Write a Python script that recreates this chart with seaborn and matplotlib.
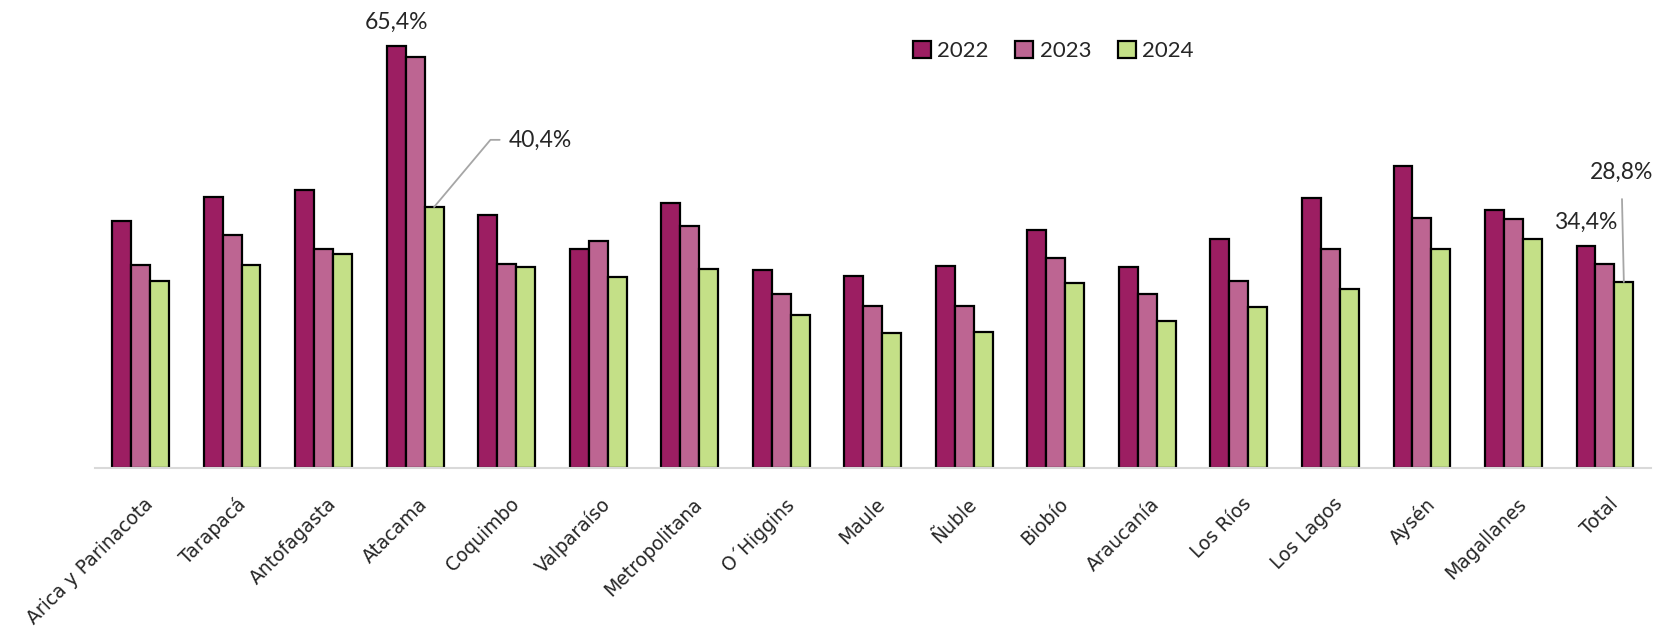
import seaborn as sns
import pandas as pd
import numpy as np
import matplotlib.pyplot as plt
from matplotlib.transforms import ScaledTranslation

sns.set_theme(style="white")
plt.rcParams['font.family'] = ['Lato', 'DejaVu Sans']

# regiones y valores (%)
regiones = ["Arica y Parinacota", "Tarapacá", "Antofagasta", "Atacama", "Coquimbo",
            "Valparaíso", "Metropolitana", "O´Higgins", "Maule", "Ñuble", "Biobío",
            "Araucanía", "Los Ríos", "Los Lagos", "Aysén", "Magallanes", "Total"]
v2022 = [38.3, 42.0, 43.0, 65.4, 39.1, 33.9, 41.0, 30.6, 29.7, 31.3, 36.9,
         31.1, 35.4, 41.8, 46.7, 39.9, 34.4]
v2023 = [31.5, 36.1, 33.9, 63.7, 31.6, 35.1, 37.5, 27.0, 25.1, 25.1, 32.5,
         27.0, 29.0, 33.9, 38.7, 38.5, 31.6]
v2024 = [29.0, 31.5, 33.2, 40.4, 31.1, 29.5, 30.8, 23.7, 20.9, 21.1, 28.7,
         22.8, 24.9, 27.7, 33.9, 35.4, 28.8]
anios = ["2022", "2023", "2024"]
colores = ["#9C1E62", "#BD6592", "#C4E087"]

df = pd.DataFrame({
    "region": regiones * 3,
    "anio": np.repeat(anios, len(regiones)),
    "valor": v2022 + v2023 + v2024,
})

fig = plt.figure(figsize=(16.64, 6.28), dpi=100)
ax = fig.add_axes([0.057, 0.2548, 0.935, 0.72])

sns.barplot(data=df, x="region", y="valor", hue="anio", palette=colores,
            width=0.62, gap=0, edgecolor="black", linewidth=1.6,
            saturation=1, ax=ax, legend=True)

ax.set_ylim(0, 70)
ax.set_xlim(-0.5, len(regiones) - 0.5)
ax.set_xlabel("")
ax.set_ylabel("")
ax.set_yticks([])
for s in ["top", "right", "left"]:
    ax.spines[s].set_visible(False)
ax.spines["bottom"].set_color("#D9D9D9")
ax.spines["bottom"].set_linewidth(1.5)

ax.tick_params(axis="x", length=0, pad=19)
ax.set_xticks(range(len(regiones)))
ax.set_xticklabels(regiones, rotation=45, ha="right", rotation_mode="anchor",
                   fontsize=13.5, family="DejaVu Sans")
for t in ax.get_xticklabels():
    t.set_transform(t.get_transform() + ScaledTranslation(0.03, 0, fig.dpi_scale_trans))

# leyenda
handles, labels = ax.get_legend_handles_labels()
ax.legend_.remove()
fig.legend(handles, labels, loc="center", bbox_to_anchor=(0.633, 0.919), ncol=3,
           frameon=False, fontsize=16, handlelength=0.8, handleheight=0.8,
           handletextpad=0.3, columnspacing=1.2)

# etiquetas de datos
bw = 0.62 / 3
ia = regiones.index("Atacama")
it = regiones.index("Total")
ax.annotate("65,4%", (ia - bw, v2022[ia]), xytext=(0, 9), textcoords="offset points",
            ha="center", va="bottom", fontsize=16.5)
ax.annotate("40,4%", (ia + bw, v2024[ia]), xytext=(ia + 1.02, 50.8),
            ha="left", va="center", fontsize=16.5,
            arrowprops=dict(arrowstyle="-", color="#A6A6A6", lw=1.3,
                            connectionstyle="angle,angleA=0,angleB=50,rad=0",
                            shrinkA=4, shrinkB=0))
ax.annotate("34,4%", (it - bw, v2022[it]), xytext=(0, 9), textcoords="offset points",
            ha="center", va="bottom", fontsize=16.5)
ax.annotate("28,8%", (it + bw, v2024[it]), xytext=(it + 0.18, 45.7),
            ha="center", va="center", fontsize=16.5,
            arrowprops=dict(arrowstyle="-", color="#A6A6A6", lw=1.3,
                            shrinkA=9, shrinkB=0))

fig.savefig("out.png", dpi=100)
